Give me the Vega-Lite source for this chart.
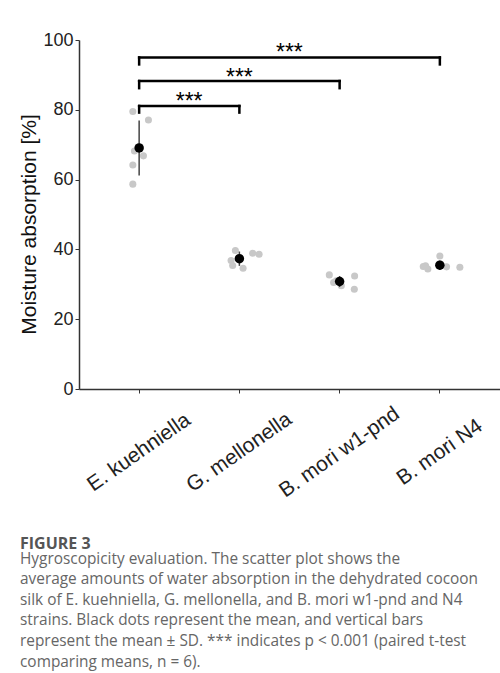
{
  "$schema": "https://vega.github.io/schema/vega-lite/v6.json",
  "width": 421,
  "height": 349,
  "autosize": {"type": "none"},
  "padding": {"left": 79, "top": 40, "right": 0, "bottom": 284},
  "background": "white",
  "config": {
    "view": {"stroke": null},
    "font": "Liberation Sans",
    "axis": {"labelFont": "Liberation Sans", "titleFont": "Liberation Sans"},
    "text": {"font": "Liberation Sans"}
  },
  "title": {
    "text": "FIGURE 3",
    "subtitle": [
      "Hygroscopicity evaluation. The scatter plot shows the",
      "average amounts of water absorption in the dehydrated cocoon",
      "silk of E. kuehniella, G. mellonella, and B. mori w1-pnd and N4",
      "strains. Black dots represent the mean, and vertical bars",
      "represent the mean ± SD. *** indicates p < 0.001 (paired t-test",
      "comparing means, n = 6)."
    ],
    "orient": "bottom",
    "anchor": "start",
    "frame": "group",
    "offset": 35.5,
    "dx": -59,
    "font": "Open Sans",
    "fontSize": 16,
    "fontWeight": "bold",
    "color": "#555555",
    "subtitleFont": "Open Sans",
    "subtitleFontSize": 15.4,
    "subtitleColor": "#666666",
    "subtitleLineHeight": 20.6,
    "subtitlePadding": -0.5
  },
  "datasets": {
    "points": [
      {"group": "E. kuehniella", "value": 79.5, "jitter": -0.063},
      {"group": "E. kuehniella", "value": 77.1, "jitter": 0.093},
      {"group": "E. kuehniella", "value": 68.2, "jitter": -0.047},
      {"group": "E. kuehniella", "value": 66.8, "jitter": 0.043},
      {"group": "E. kuehniella", "value": 64.2, "jitter": -0.063},
      {"group": "E. kuehniella", "value": 58.7, "jitter": -0.063},
      {"group": "G. mellonella", "value": 39.7, "jitter": -0.04},
      {"group": "G. mellonella", "value": 36.8, "jitter": -0.083},
      {"group": "G. mellonella", "value": 35.4, "jitter": -0.067},
      {"group": "G. mellonella", "value": 34.6, "jitter": 0.037},
      {"group": "G. mellonella", "value": 38.9, "jitter": 0.133},
      {"group": "G. mellonella", "value": 38.6, "jitter": 0.197},
      {"group": "B. mori w1-pnd", "value": 32.7, "jitter": -0.103},
      {"group": "B. mori w1-pnd", "value": 30.5, "jitter": -0.06},
      {"group": "B. mori w1-pnd", "value": 32.4, "jitter": 0.15},
      {"group": "B. mori w1-pnd", "value": 28.6, "jitter": 0.147},
      {"group": "B. mori w1-pnd", "value": 31.0, "jitter": -0.033},
      {"group": "B. mori w1-pnd", "value": 29.6, "jitter": 0.017},
      {"group": "B. mori N4", "value": 38.1, "jitter": 0.0},
      {"group": "B. mori N4", "value": 35.3, "jitter": -0.143},
      {"group": "B. mori N4", "value": 34.4, "jitter": -0.12},
      {"group": "B. mori N4", "value": 35.0, "jitter": 0.067},
      {"group": "B. mori N4", "value": 34.9, "jitter": 0.2},
      {"group": "B. mori N4", "value": 35.1, "jitter": -0.166}
    ],
    "brackets": [
      {"g1": "E. kuehniella", "g2": "G. mellonella", "ytop": 81.1, "yend": 79.2, "lg": "E. kuehniella", "loff": 0.5, "ly": 82.1, "label": "***"},
      {"g1": "E. kuehniella", "g2": "B. mori w1-pnd", "ytop": 88.25, "yend": 86.2, "lg": "G. mellonella", "loff": 0.0, "ly": 89.2, "label": "***"},
      {"g1": "E. kuehniella", "g2": "B. mori N4", "ytop": 95.0, "yend": 93.0, "lg": "G. mellonella", "loff": 0.5, "ly": 96.2, "label": "***"}
    ]
  },
  "encoding": {
    "x": {
      "field": "group",
      "type": "nominal",
      "scale": {"type": "band", "domain": ["E. kuehniella", "G. mellonella", "B. mori w1-pnd", "B. mori N4"], "paddingInner": 1, "paddingOuter": 0.6},
      "axis": {
        "title": null,
        "labelAngle": -35,
        "labelAlign": "center",
        "labelBaseline": "middle",
        "labelPadding": 59,
        "labelFontSize": 21,
        "labelColor": "#222222",
        "labelFont": "Liberation Sans",
        "labelLimit": 0,
        "labelOverlap": false,
        "tickSize": 4,
        "tickColor": "#333333",
        "domainColor": "#333333",
        "domainWidth": 1.5
      }
    }
  },
  "layer": [
    {
      "data": {"name": "points"},
      "mark": {"type": "circle", "size": 50, "color": "#c8c8c8", "opacity": 1},
      "encoding": {
        "xOffset": {"field": "jitter", "type": "quantitative", "scale": {"domain": [-1, 1], "range": [-100, 100]}},
        "y": {
          "field": "value",
          "type": "quantitative",
          "title": "Moisture absorption [%]",
          "scale": {"domain": [0, 100], "nice": false},
          "axis": {
            "title": "Moisture absorption [%]",
            "values": [0, 20, 40, 60, 80, 100],
            "grid": false,
            "tickSize": 4,
            "tickColor": "#333333",
            "labelFont": "Liberation Sans",
            "labelFontSize": 18,
            "labelPadding": 2,
            "labelColor": "#222222",
            "titleFont": "Liberation Sans",
            "titleFontSize": 21,
            "titleFontWeight": "normal",
            "titleColor": "#111111",
            "titleAngle": -90,
            "titleX": -44,
            "titleY": 184,
            "titleBaseline": "alphabetic",
            "domainColor": "#333333",
            "domainWidth": 1.5
          }
        }
      }
    },
    {
      "data": {"name": "points"},
      "mark": {"type": "errorbar", "extent": "stdev", "color": "#444444", "thickness": 1.5},
      "encoding": {
        "y": {"field": "value", "type": "quantitative", "title": "Moisture absorption [%]"}
      }
    },
    {
      "data": {"name": "points"},
      "mark": {"type": "circle", "size": 90, "color": "black", "opacity": 1},
      "encoding": {
        "y": {"field": "value", "aggregate": "mean", "type": "quantitative", "title": "Moisture absorption [%]"}
      }
    },
    {
      "data": {"name": "brackets"},
      "mark": {"type": "rule", "color": "black", "strokeWidth": 2.5, "strokeCap": "square"},
      "encoding": {
        "x": {"field": "g1", "type": "nominal"},
        "x2": {"field": "g2"},
        "y": {"field": "ytop", "type": "quantitative", "title": "Moisture absorption [%]"}
      }
    },
    {
      "data": {"name": "brackets"},
      "mark": {"type": "rule", "color": "black", "strokeWidth": 2.5, "strokeCap": "square"},
      "encoding": {
        "x": {"field": "g1", "type": "nominal"},
        "y": {"field": "ytop", "type": "quantitative", "title": "Moisture absorption [%]"},
        "y2": {"field": "yend"}
      }
    },
    {
      "data": {"name": "brackets"},
      "mark": {"type": "rule", "color": "black", "strokeWidth": 2.5, "strokeCap": "square"},
      "encoding": {
        "x": {"field": "g2", "type": "nominal"},
        "y": {"field": "ytop", "type": "quantitative", "title": "Moisture absorption [%]"},
        "y2": {"field": "yend"}
      }
    },
    {
      "data": {"name": "brackets"},
      "mark": {"type": "text", "fontSize": 23, "color": "black", "baseline": "middle", "align": "center", "font": "Liberation Sans"},
      "encoding": {
        "x": {"field": "lg", "type": "nominal"},
        "xOffset": {"field": "loff", "type": "quantitative", "scale": {"domain": [-1, 1], "range": [-100, 100]}},
        "y": {"field": "ly", "type": "quantitative", "title": "Moisture absorption [%]"},
        "text": {"field": "label"}
      }
    }
  ]
}
